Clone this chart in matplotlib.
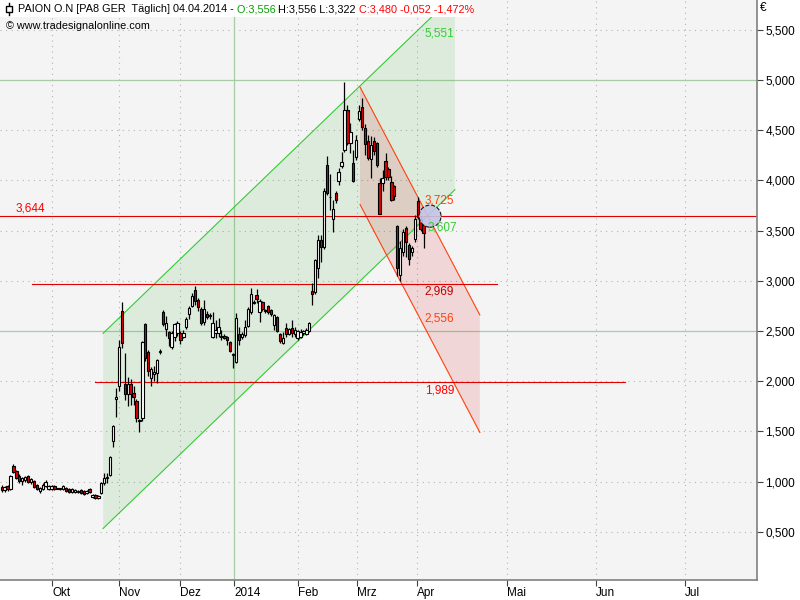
import numpy as np
import matplotlib
matplotlib.use("Agg")
import matplotlib.pyplot as plt
from matplotlib.patches import Rectangle, Ellipse, Polygon

plt.rcParams['font.family'] = ['Liberation Sans', 'DejaVu Sans']

# daily candles, PAION (Sep 2013 - 04.04.2014)
opens = [0.95, 0.92, 0.96, 0.93, 1.16, 1.11, 1.06, 1.01, 1.02, 1.06,
         1.00, 1.01, 0.97, 0.91, 0.93, 0.96, 0.93, 0.93, 0.96, 0.93,
         0.93, 0.93, 0.94, 0.93, 0.90, 0.90, 0.90, 0.92, 0.91, 0.89,
         0.93, 0.85, 0.87, 0.84, 0.89, 0.99, 1.04, 1.07, 1.40, 1.82,
         1.95, 2.70, 1.97, 1.87, 1.97, 1.88, 1.80, 1.60, 1.63, 2.57,
         2.29, 2.03, 2.07, 2.08, 2.29, 2.69, 2.52, 2.49, 2.34, 2.44,
         2.48, 2.48, 2.44, 2.54, 2.67, 2.75, 2.91, 2.81, 2.72, 2.59,
         2.67, 2.65, 2.44, 2.48, 2.48, 2.44, 2.45, 2.44, 2.39, 2.26,
         2.19, 2.47, 2.44, 2.46, 2.55, 2.69, 2.78, 2.86, 2.69, 2.79,
         2.70, 2.75, 2.71, 2.56, 2.64, 2.47, 2.38, 2.53, 2.47, 2.53,
         2.47, 2.43, 2.44, 2.48, 2.47, 2.50, 2.90, 2.89, 3.13, 3.41,
         3.34, 4.15, 3.83, 3.62, 3.87, 3.99, 4.14, 4.30, 4.70, 4.37,
         4.17, 4.23, 4.61, 4.73, 4.52, 4.39, 4.21, 4.39, 4.37, 3.97,
         3.97, 4.19, 4.11, 3.98, 3.94, 3.55, 3.06, 3.29, 3.53, 3.36,
         3.29, 3.42, 3.79, 3.62, 3.556]
highs = [0.97, 0.96, 0.97, 1.07, 1.18, 1.12, 1.08, 1.05, 1.06, 1.07,
         1.04, 1.02, 0.98, 0.95, 0.99, 1.02, 0.97, 0.97, 0.97, 0.94,
         0.94, 0.97, 0.95, 0.94, 0.94, 0.93, 0.92, 0.93, 0.92, 0.92,
         0.94, 0.88, 0.88, 0.87, 1.00, 1.09, 1.09, 1.26, 1.56, 1.93,
         2.41, 2.79, 2.28, 2.04, 2.02, 1.95, 1.82, 1.62, 2.40, 2.58,
         2.31, 2.14, 2.15, 2.22, 2.32, 2.71, 2.65, 2.50, 2.50, 2.58,
         2.60, 2.50, 2.51, 2.64, 2.75, 2.88, 2.95, 2.83, 2.74, 2.81,
         2.70, 2.68, 2.69, 2.61, 2.63, 2.51, 2.47, 2.45, 2.40, 2.28,
         2.68, 2.54, 2.49, 2.61, 2.74, 2.93, 2.81, 2.92, 2.82, 2.80,
         2.72, 2.76, 2.72, 2.67, 2.65, 2.48, 2.49, 2.58, 2.53, 2.61,
         2.54, 2.51, 2.52, 2.51, 2.53, 2.59, 2.98, 3.22, 3.46, 3.46,
         3.92, 4.24, 4.06, 3.80, 3.89, 4.12, 4.28, 4.98, 4.75, 4.57,
         4.30, 4.45, 4.75, 4.82, 4.56, 4.45, 4.44, 4.43, 4.38, 4.02,
         4.10, 4.27, 4.13, 4.04, 3.95, 3.56, 3.40, 3.52, 3.55, 3.38,
         3.35, 3.66, 3.83, 3.65, 3.556]
lows = [0.90, 0.90, 0.91, 0.92, 1.09, 1.03, 0.99, 0.97, 1.00, 0.99,
        0.98, 0.94, 0.92, 0.89, 0.92, 0.95, 0.92, 0.92, 0.92, 0.93,
        0.92, 0.92, 0.90, 0.89, 0.89, 0.89, 0.89, 0.88, 0.87, 0.88,
        0.89, 0.84, 0.83, 0.83, 0.88, 0.97, 0.99, 1.06, 1.34, 1.64,
        1.90, 2.33, 1.81, 1.75, 1.76, 1.76, 1.59, 1.49, 1.60, 2.20,
        2.05, 1.95, 2.00, 1.98, 2.27, 2.55, 2.45, 2.35, 2.32, 2.40,
        2.45, 2.37, 2.43, 2.52, 2.62, 2.74, 2.76, 2.70, 2.56, 2.56,
        2.62, 2.62, 2.43, 2.43, 2.44, 2.41, 2.42, 2.36, 2.29, 2.13,
        2.18, 2.36, 2.42, 2.44, 2.54, 2.67, 2.77, 2.78, 2.59, 2.70,
        2.68, 2.67, 2.65, 2.51, 2.49, 2.38, 2.37, 2.44, 2.46, 2.44,
        2.44, 2.41, 2.43, 2.46, 2.46, 2.49, 2.76, 2.87, 3.03, 3.19,
        3.32, 3.85, 3.71, 3.49, 3.78, 3.95, 4.12, 4.28, 4.35, 4.27,
        3.98, 4.20, 4.59, 4.50, 4.25, 4.20, 4.02, 4.25, 4.13, 3.67,
        3.89, 4.00, 4.00, 3.79, 3.80, 3.05, 3.00, 3.25, 3.24, 3.16,
        3.25, 3.39, 3.62, 3.50, 3.322]
closes = [0.92, 0.95, 0.93, 1.06, 1.10, 1.04, 1.01, 1.04, 1.05, 1.00,
          1.03, 0.95, 0.93, 0.94, 0.97, 1.00, 0.96, 0.96, 0.93, 0.93,
          0.93, 0.96, 0.91, 0.90, 0.93, 0.92, 0.91, 0.89, 0.88, 0.91,
          0.90, 0.87, 0.84, 0.86, 0.99, 1.04, 1.05, 1.25, 1.55, 1.84,
          2.34, 2.38, 1.87, 1.97, 1.87, 1.84, 1.63, 1.61, 2.39, 2.23,
          2.10, 2.12, 2.09, 2.21, 2.30, 2.57, 2.58, 2.43, 2.48, 2.57,
          2.58, 2.41, 2.48, 2.62, 2.73, 2.85, 2.80, 2.74, 2.58, 2.72,
          2.64, 2.65, 2.58, 2.51, 2.54, 2.45, 2.43, 2.41, 2.30, 2.26,
          2.63, 2.41, 2.47, 2.54, 2.72, 2.87, 2.79, 2.82, 2.80, 2.72,
          2.70, 2.69, 2.67, 2.66, 2.50, 2.40, 2.43, 2.47, 2.52, 2.48,
          2.51, 2.50, 2.49, 2.50, 2.51, 2.58, 2.87, 3.21, 3.41, 3.34,
          3.89, 3.87, 3.83, 3.72, 3.80, 4.08, 4.18, 4.70, 4.37, 4.48,
          3.99, 4.40, 4.69, 4.53, 4.36, 4.22, 4.35, 4.29, 4.15, 3.67,
          4.02, 4.03, 4.03, 3.80, 3.84, 3.13, 3.33, 3.49, 3.39, 3.22,
          3.33, 3.62, 3.64, 3.52, 3.480]

# drawing tools (bar index / price)
green_bars = [34.6, 154.7]
green_low = [0.533, 3.908]
green_high = [2.477, 5.852]
red_bars = [122.3, 163.2]
red_high = [4.93, 2.66]
red_low = [3.76, 1.49]
levels = [3.644, 2.969, 1.989]
level_span = [(-1, 260), (10.3, 169.0), (31.9, 212.7)]
last_bar = 144
circle_bar, circle_price = 146.2, 3.644

month_labels = ['Okt', 'Nov', 'Dez', '2014', 'Feb', 'Mrz', 'Apr', 'Mai', 'Jun', 'Jul']
month_pos = [17.2, 40.0, 61.0, 79.3, 101.1, 121.3, 141.7, 172.5, 202.8, 233.2]
price_ticks = [0.5, 1.0, 1.5, 2.0, 2.5, 3.0, 3.5, 4.0, 4.5, 5.0, 5.5]


def de(v):
    return '{:.3f}'.format(v).replace('.', ',')


fig = plt.figure(figsize=(8, 6), dpi=100)
ax = fig.add_axes([0, 20 / 600, 757 / 800, 580 / 600])
ax.set_facecolor('#F4F4F4')
ax.set_xlim(-0.58, 257.8)
ax.set_ylim(0.02, 5.797)

# grid
for p in price_ticks:
    if p in (2.5, 5.0):
        ax.axhline(p, color='#A8CCA8', lw=0.9, zorder=0.5)
    else:
        ax.axhline(p, color='#B4B4B4', lw=0.8, ls=(0, (1, 4)), zorder=0.5)
for lab, p in zip(month_labels, month_pos):
    if lab == '2014':
        ax.axvline(p, color='#A8CCA8', lw=0.9, zorder=0.5)
    else:
        ax.axvline(p, color='#B4B4B4', lw=0.8, ls=(0, (1, 4)), zorder=0.5)

# channels
gpoly = [(green_bars[0], green_low[0]), (green_bars[1], green_low[1]),
         (green_bars[1], green_high[1]), (green_bars[0], green_high[0])]
ax.add_patch(Polygon(gpoly, closed=True, facecolor=(0.0, 0.6, 0.0, 0.09),
                     edgecolor='none', zorder=1))
rpoly = [(red_bars[0], red_low[0]), (red_bars[1], red_low[1]),
         (red_bars[1], red_high[1]), (red_bars[0], red_high[0])]
ax.add_patch(Polygon(rpoly, closed=True, facecolor=(0.85, 0.0, 0.0, 0.12),
                     edgecolor='none', zorder=1))
ax.plot(green_bars, green_low, color='#33CC33', lw=0.8, zorder=2)
ax.plot(green_bars, green_high, color='#33CC33', lw=0.8, zorder=2)
ax.plot(red_bars, red_low, color='#FF4010', lw=0.8, zorder=2)
ax.plot(red_bars, red_high, color='#FF4010', lw=0.8, zorder=2)

# horizontal levels
for lv, (a, b) in zip(levels, level_span):
    ax.plot([a, b], [lv, lv], color='#E00000', lw=0.8, zorder=2)

# candles
x = np.arange(len(closes))
o = np.array(opens)
c = np.array(closes)
ax.vlines(x, lows, highs, color='black', lw=0.9, zorder=3)
bottom = np.minimum(o, c)
height = np.maximum(np.abs(c - o), 0.008)
colors = np.where(c < o, '#E00000', 'white')
ax.bar(x, height, bottom=bottom, width=0.8, color=colors,
       edgecolor='black', linewidth=0.8, zorder=4)

# marker circle
ax.add_patch(Ellipse((circle_bar, circle_price), 7.5, 0.22, facecolor='#C4C4E8',
                     edgecolor='black', ls='--', lw=0.8, alpha=0.9, zorder=5))

# value labels
def g_at(xs, ys, b):
    return np.interp(b, xs, ys)

lab_x = last_bar + 0.4
ax.text(lab_x, g_at(green_bars, green_high, last_bar) - 0.03, '5,551', color='#33CC33',
        fontsize=8.5, va='top', ha='left', zorder=6)
ax.text(lab_x, g_at(red_bars, red_high, last_bar) + 0.01, '3,725', color='#FF4010',
        fontsize=8.5, va='bottom', ha='left', zorder=6)
ax.text(lab_x + 1, g_at(green_bars, green_low, last_bar) - 0.02, '3,607', color='#33CC33',
        fontsize=8.5, va='top', ha='left', zorder=6)
ax.text(lab_x, levels[1] - 0.02, '2,969', color='#C00000',
        fontsize=8.5, va='top', ha='left', zorder=6)
ax.text(lab_x, g_at(red_bars, red_low, last_bar) + 0.01, '2,556', color='#FF4010',
        fontsize=8.5, va='bottom', ha='left', zorder=6)
ax.text(lab_x, levels[2] - 0.02, '1,989', color='#FF0000',
        fontsize=8.5, va='top', ha='left', zorder=6)
ax.text(9.7, levels[0] + 0.02, '3,644', color='#FF0000',
        fontsize=8.5, va='bottom', ha='center', zorder=6)

# axes styling
for s in ['top', 'left']:
    ax.spines[s].set_visible(False)
for s in ['right', 'bottom']:
    ax.spines[s].set_color('#808080')
    ax.spines[s].set_linewidth(1.2)
ax.yaxis.tick_right()
ax.set_yticks(price_ticks)
ax.set_yticklabels([de(p) for p in price_ticks], fontsize=8.5)
ax.tick_params(axis='y', direction='out', length=4, color='#404040', pad=2)
ax.set_xticks(month_pos)
ax.set_xticklabels(month_labels, fontsize=8.5, ha='left')
ax.tick_params(axis='x', direction='out', length=4, color='#404040', pad=1)

fig.text(760 / 800, 1 - 8 / 600, '€', fontsize=8.5, va='center', ha='left')

# title box
fig.add_artist(Rectangle((0, 1 - 17 / 600), 470 / 800, 17 / 600, transform=fig.transFigure,
                         facecolor='white', edgecolor='none', zorder=2))
# little candle icon
fig.add_artist(plt.Line2D([9 / 800, 9 / 800], [1 - 3 / 600, 1 - 15 / 600],
                          transform=fig.transFigure, color='black', lw=1, zorder=3))
fig.add_artist(Rectangle((6 / 800, 1 - 12 / 600), 6 / 800, 6 / 600, transform=fig.transFigure,
                         facecolor='white', edgecolor='black', lw=1, zorder=4))

pieces = [('PAION O.N [PA8 GER  Täglich] 04.04.2014 - ', 'black'),
          ('O:3,556 ', '#00A000'),
          ('H:3,556 L:3,322 ', 'black'),
          ('C:3,480 -0,052 -1,472%', '#FF0000')]
fig.canvas.draw()
r = fig.canvas.get_renderer()
xpos = 18
for txt, col in pieces:
    t = fig.text(xpos / 800, 1 - 9 / 600, txt, color=col, fontsize=7.8,
                 va='center', ha='left', zorder=5)
    xpos += t.get_window_extent(renderer=r).width
fig.text(6 / 800, 1 - 26 / 600, '© www.tradesignalonline.com', fontsize=7.8,
         va='center', ha='left', zorder=5)

fig.savefig('out.png', dpi=100)
